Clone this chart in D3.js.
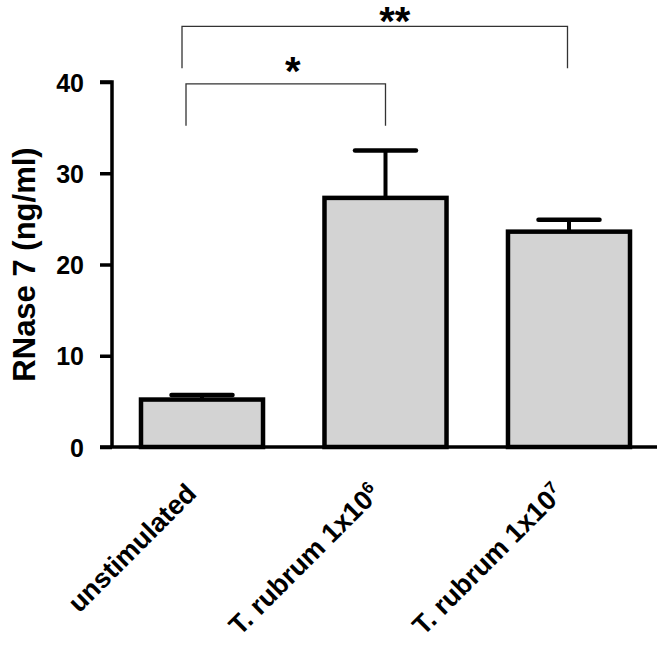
<!DOCTYPE html>
<html>
<head>
<meta charset="utf-8">
<script src="https://cdn.jsdelivr.net/npm/d3@7"></script>
<style>
  body { margin: 0; background: #fff; }
  text { font-family: "Liberation Sans", Arial, sans-serif; font-weight: bold; }
</style>
</head>
<body>
<div id="chart"></div>
<script>
// values
const groups = ["unstimulated", "T. rubrum 1x10", "T. rubrum 1x10"];
const exponents = ["", "6", "7"];
const means = [5.2, 27.3, 23.6];
const errors = [0.5, 5.2, 1.3];
const yTicks = [0, 10, 20, 30, 40];
// significance brackets: from, to, label, top value, leg bottom value
const brackets = [
    {from: 0, to: 1, label: "*", top: 39.8, bottom: 35.2},
    {from: 0, to: 2, label: "**", top: 46.1, bottom: 41.5}
];

const width = 667, height = 648;
const margin = {top: 82, right: 8, bottom: 201, left: 112};

const svg = d3.select("#chart").append("svg")
    .attr("width", width)
    .attr("height", height);

const x = d3.scaleBand()
    .domain(d3.range(groups.length))
    .range([margin.left, 659])
    .paddingInner(0.335)
    .paddingOuter(0.158);

const y = d3.scaleLinear()
    .domain([0, 40])
    .range([height - margin.bottom, margin.top]);

const cx = i => x(i) + x.bandwidth() / 2;

// bars
svg.selectAll(".bar")
    .data(means)
    .enter().append("rect")
    .attr("class", "bar")
    .attr("x", (d, i) => x(i))
    .attr("y", d => y(d))
    .attr("width", x.bandwidth())
    .attr("height", d => y(0) - y(d))
    .style("fill", "#d3d3d3")
    .style("stroke", "#000")
    .style("stroke-width", 4.5);

// error bars (upper only)
const capW = x.bandwidth() / 2;
const eb = svg.selectAll(".err")
    .data(means)
    .enter().append("g")
    .attr("class", "err");

eb.append("line")
    .attr("x1", (d, i) => cx(i))
    .attr("x2", (d, i) => cx(i))
    .attr("y1", d => y(d))
    .attr("y2", (d, i) => y(d + errors[i]))
    .style("stroke", "#000")
    .style("stroke-width", 4);

eb.append("line")
    .attr("x1", (d, i) => cx(i) - capW / 2)
    .attr("x2", (d, i) => cx(i) + capW / 2)
    .attr("y1", (d, i) => y(d + errors[i]))
    .attr("y2", (d, i) => y(d + errors[i]))
    .style("stroke", "#000")
    .style("stroke-width", 4.5)
    .style("stroke-linecap", "round");

// y axis
const yAxis = d3.axisLeft(y)
    .tickValues(yTicks)
    .tickSize(12)
    .tickPadding(16);

const gy = svg.append("g")
    .attr("transform", `translate(${margin.left},0)`)
    .call(yAxis);
gy.select(".domain").attr("d", `M-12,${y(40)}H0V${y(0)}`).style("stroke-width", 3.5);
gy.selectAll(".tick line").style("stroke-width", 3.5);
gy.selectAll(".tick text").style("font-size", "25px").attr("dy", "0.36em");

// x axis line
svg.append("line")
    .attr("x1", margin.left - 12)
    .attr("x2", 657)
    .attr("y1", y(0))
    .attr("y2", y(0))
    .style("stroke", "#000")
    .style("stroke-width", 3.5);

// y label
svg.append("text")
    .attr("transform", `translate(35,${(y(0) + y(40)) / 2}) rotate(-90)`)
    .attr("text-anchor", "middle")
    .style("font-size", "31px")
    .text("RNase 7 (ng/ml)");

// x labels
const xl = svg.selectAll(".xlab")
    .data(groups)
    .enter().append("text")
    .attr("class", "xlab")
    .attr("text-anchor", "end")
    .attr("transform", (d, i) => `translate(${cx(i) - 4},${y(0) + 48}) rotate(-45)`)
    .style("font-size", "27px");

xl.append("tspan").text(d => d);
xl.append("tspan")
    .attr("dy", "-0.55em")
    .style("font-size", "17px")
    .text((d, i) => exponents[i]);

// significance brackets
brackets.forEach(b => {
    const x1 = cx(b.from) - (b.to === 2 ? 20 : 16);
    const x2 = cx(b.to) - (b.to === 2 ? 1.5 : 0);
    svg.append("path")
        .attr("d", `M${x1},${y(b.bottom)}V${y(b.top)}H${x2}V${y(b.bottom)}`)
        .style("fill", "none")
        .style("stroke", "#333")
        .style("stroke-width", 1.3);
    svg.append("text")
        .attr("x", (x1 + x2) / 2 + (b.to === 2 ? 20 : 7))
        .attr("y", y(b.top) + (b.to === 2 ? 9 : 1))
        .attr("text-anchor", "middle")
        .style("font-size", "40px")
        .text(b.label);
});
</script>
</body>
</html>
